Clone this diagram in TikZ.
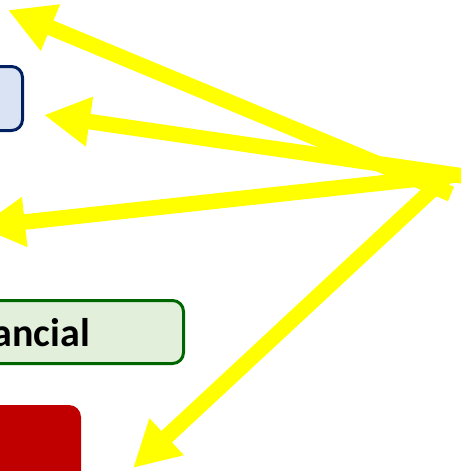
\documentclass[tikz,border=0pt]{standalone}
\usepackage{fontspec}
\setmainfont{Carlito}
\usetikzlibrary{arrows.meta}
\definecolor{arrowyellow}{HTML}{FFFF00}
\definecolor{navyline}{HTML}{002060}
\definecolor{bluefill}{HTML}{DAE3F3}
\definecolor{greenline}{HTML}{006600}
\definecolor{greenfill}{HTML}{E2EFDA}
\definecolor{darkred}{HTML}{C00000}
\tikzset{
  box/.style={rectangle, rounded corners=11pt, inner sep=0pt},
  bluebox/.style={box, draw=navyline, fill=bluefill, line width=3pt},
  greenbox/.style={box, draw=greenline, fill=greenfill, line width=3pt},
  redbox/.style={box, fill=darkred, rounded corners=12pt},
  pointer/.style={draw=arrowyellow, line width=15.5pt,
    -{Triangle[length=46pt,width=47pt,fill=arrowyellow]}},
  label/.style={font=\bfseries\fontsize{40}{40}\selectfont, inner sep=0pt}
}
\begin{document}
\begin{tikzpicture}[x=1pt,y=-1pt]
\clip (0,0) rectangle (461,471);
\fill[white] (0,0) rectangle (461,471);
% boxes
\node[bluebox, minimum width=200pt, minimum height=64pt] (blue) at (-77.5,98.5) {};
\node[greenbox, minimum width=300pt, minimum height=63pt] (green) at (33.5,332) {};
\node[label, anchor=base east] (fin) at (90,346.7) {Financial};
\node[redbox, minimum width=200pt, minimum height=100pt] (red) at (-19,455) {};
% arrow end points
\coordinate (a1s) at (451,194);
\coordinate (a1t) at (8,10);
\coordinate (a2s) at (463,176);
\coordinate (a2t) at (44,115);
\coordinate (a3s) at (455,175);
\coordinate (a3t) at (-21,227);
\coordinate (a4s) at (447,176);
\coordinate (a4t) at (133,468);
\draw[pointer] (a4s) -- (a4t);
\draw[pointer] (a3s) -- (a3t);
\draw[pointer] (a1s) -- (a1t);
\draw[pointer] (a2s) -- (a2t);
\end{tikzpicture}
\end{document}
